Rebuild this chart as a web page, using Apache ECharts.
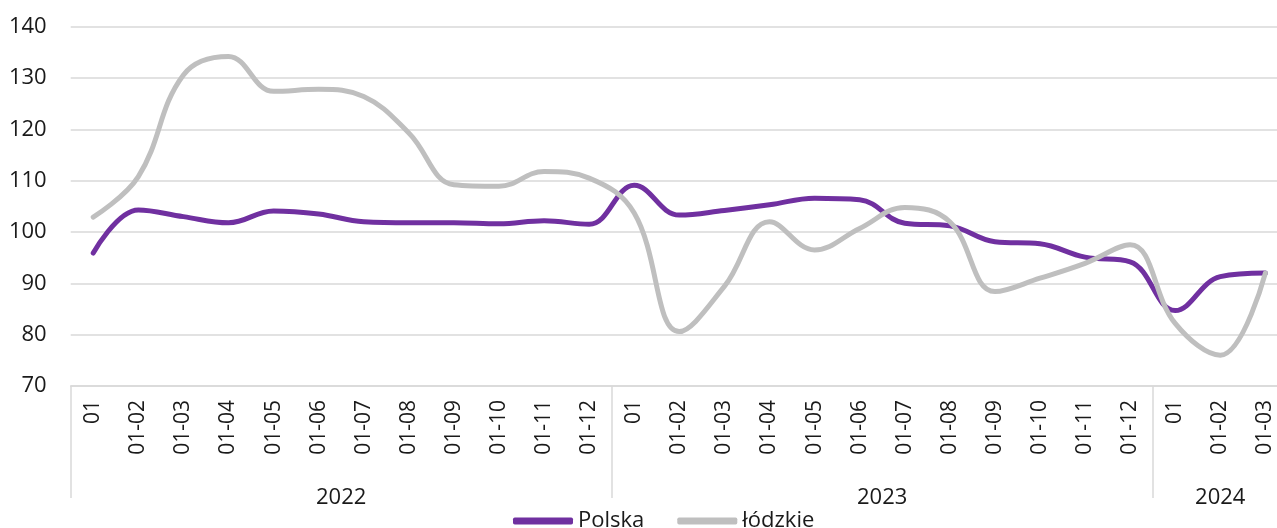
<!DOCTYPE html>
<html>
<head>
<meta charset="utf-8">
<script src="https://cdn.jsdelivr.net/npm/echarts@6/dist/echarts.min.js"></script>
<style>html,body{margin:0;padding:0;background:#fff;overflow:hidden}#c{width:1277px;height:528px}</style>
</head>
<body>
<div id="c"></div>
<script>
var categories = ['01','01-02','01-03','01-04','01-05','01-06','01-07','01-08','01-09','01-10','01-11','01-12',
                  '01','01-02','01-03','01-04','01-05','01-06','01-07','01-08','01-09','01-10','01-11','01-12',
                  '01','01-02','01-03'];
var years = ['2022','2023','2024'];
var yearMonthCounts = [12, 12, 3];
var polska = [95.9,104.3,103.0,101.8,104.1,103.5,102.0,101.8,101.8,101.6,102.2,101.5,
              109.1,103.3,104.2,105.3,106.6,106.3,101.7,101.2,98.1,97.7,95.1,94.2,
              84.7,91.3,92.0];
var lodzkie = [102.9,110.8,130.6,134.2,127.4,127.8,126.4,119.3,109.2,108.9,111.8,110.5,
               103.7,80.6,89.4,102.0,96.5,100.7,104.8,102.0,88.4,91.0,93.9,97.5,
               82.2,76.0,92.0];

// build year group axis (half-month slots)
var yearSlots = [];
var boundaries = {};
var offset = 0;
for (var i = 0; i <= categories.length * 2; i++) yearSlots.push('');
years.forEach(function (y, k) {
  boundaries[offset] = true;
  yearSlots[offset + yearMonthCounts[k]] = y;
  offset += yearMonthCounts[k] * 2;
});
boundaries[offset] = true;

var FONT = '"Open Sans", "Noto Sans", sans-serif';
var chart = echarts.init(document.getElementById('c'), null, {renderer: 'canvas'});
chart.setOption({
  animation: false,
  textStyle: {fontFamily: FONT},
  grid: {left: 70.7, width: 1217.2, top: 26.7, bottom: 142, containLabel: false, outerBoundsMode: 'none'},
  legend: {
    left: 508, top: 505,
    icon: 'roundRect', itemWidth: 60, itemHeight: 7, itemGap: 33,
    textStyle: {fontSize: 22, color: '#1a1a1a', fontFamily: FONT},
    data: ['Polska', 'łódzkie']
  },
  xAxis: [{
    type: 'category',
    data: categories,
    boundaryGap: true,
    axisLine: {show: true, lineStyle: {color: '#d9d9d9', width: 1.5}},
    axisTick: {show: false},
    axisLabel: {rotate: 90, interval: 0, margin: 14, fontSize: 21, color: '#1a1a1a', fontFamily: FONT}
  }, {
    type: 'category',
    data: yearSlots,
    position: 'bottom',
    boundaryGap: false,
    axisLine: {show: false},
    axisTick: {
      show: true, length: 112,
      interval: function (idx) { return !!boundaries[idx]; },
      lineStyle: {color: '#d9d9d9', width: 1.5}
    },
    axisLabel: {
      margin: 101, fontSize: 22, color: '#1a1a1a', fontFamily: FONT,
      interval: function (idx, val) { return val !== ''; }
    }
  }],
  yAxis: {
    type: 'value', min: 70, max: 140, interval: 10,
    axisLine: {show: false}, axisTick: {show: false},
    splitLine: {lineStyle: {color: '#d9d9d9', width: 1.5}},
    axisLabel: {margin: 24, fontSize: 22, color: '#1a1a1a', fontFamily: FONT}
  },
  series: [{
    name: 'Polska', type: 'line', data: polska, smooth: 0.4,
    showSymbol: false, symbol: 'none',
    itemStyle: {color: '#7030a0'},
    lineStyle: {color: '#7030a0', width: 5, cap: 'round', join: 'round'}
  }, {
    name: 'łódzkie', type: 'line', data: lodzkie, smooth: 0.4,
    showSymbol: false, symbol: 'none',
    itemStyle: {color: '#bfbfbf'},
    lineStyle: {color: '#bfbfbf', width: 5, cap: 'round', join: 'round'}
  }]
});
</script>
</body>
</html>
